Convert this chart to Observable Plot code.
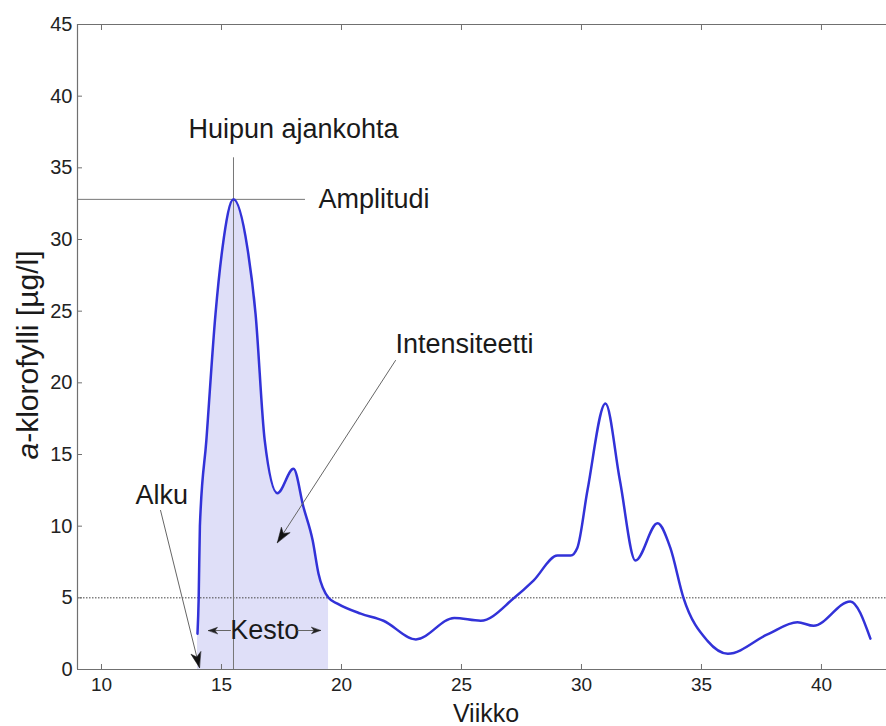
<!DOCTYPE html>
<html><head><meta charset="utf-8">
<script src="https://cdn.jsdelivr.net/npm/d3@7"></script>
<script src="https://cdn.jsdelivr.net/npm/@observablehq/plot@0.6"></script>
<style>
html,body{margin:0;padding:0;background:#fff;overflow:hidden;}
#chart svg{display:block;}
</style>
</head><body><div id="chart"></div>
<script>
// ---- data ----
const weeks = [14.0, 14.05, 14.1, 14.37, 14.75, 15.04, 15.5, 16.08, 16.42, 16.8, 17.33, 18.0, 18.42, 18.8, 19.04, 19.46, 19.83, 20.8, 21.75, 23.1, 24.7, 25.8, 27.2, 28.0, 29.0, 29.55, 29.83, 30.25, 31.0, 31.6, 32.25, 33.17, 33.7, 34.25, 35.25, 36.1, 37.75, 39.0, 39.67, 41.2, 42.04];
const chlorophyll = [2.5, 5.0, 10, 16, 24.8, 29.4, 32.8, 29.4, 24.8, 16, 12.3, 14.0, 11.3, 9.0, 6.7, 5.0, 4.6, 3.9, 3.4, 2.1, 3.6, 3.4, 5.0, 6.2, 7.95, 7.95, 8.5, 12.5, 18.55, 13.2, 7.6, 10.2, 8.5, 5.0, 2.0, 1.1, 2.45, 3.3, 3.05, 4.75, 2.15];
const xTicks = [10, 15, 20, 25, 30, 35, 40];
const yTicks = [0, 5, 10, 15, 20, 25, 30, 35, 40, 45];
const xDomain = [9, 42.71];
const yDomain = [0, 45];

const threshold = 5;          // dotted threshold line
const bloomStart = 14.0;      // Alku
const bloomEnd = 19.46;       // end of Kesto
const peakWeek = 15.5;        // Huipun ajankohta
const peakValue = 32.8;       // Amplitudi
const peakLineTop = 35.7;
const amplitudeLineEnd = 18.5;

const labelTexts = ["Huipun ajankohta", "Amplitudi", "Intensiteetti", "Alku", "Kesto"];
const labelX = [18.0, 19.04, 22.25, 11.42, 16.8];
const labelY = [37.7, 32.83, 22.68, 12.14, 2.72];
const labelAnchor = ["middle", "start", "start", "start", "middle"];

const arrowX1 = [22.25, 12.46, 15.375, 18.17];
const arrowY1 = [21.56, 11.1, 2.72, 2.72];
const arrowX2 = [17.33, 14.08, 14.46, 19.125];
const arrowY2 = [8.86, 0.14, 2.72, 2.72];
const arrowKind = ["big", "big", "small", "small"];

const yLabel = "a-klorofylli [µg/l]";
const xLabel = "Viikko";

// ---- build tables ----
const series = weeks.map((w, i) => ({week: w, value: chlorophyll[i]}));
const shaded = series.filter(d => d.week >= bloomStart && d.week <= bloomEnd);
const labels = labelTexts.map((t, i) => ({text: t, x: labelX[i], y: labelY[i], anchor: labelAnchor[i]}));
const arrows = arrowX1.map((x, i) => ({x1: x, y1: arrowY1[i], x2: arrowX2[i], y2: arrowY2[i], kind: arrowKind[i]}));

const W = 886, H = 726, ML = 77, MR = 0, MT = 24, MB = 57;
const kx = (W - ML - MR) / (xDomain[1] - xDomain[0]);
const ky = (H - MT - MB) / (yDomain[1] - yDomain[0]);
arrows.forEach(a => {
  a.angle = Math.atan2((a.x2 - a.x1) * kx, (a.y2 - a.y1) * ky) * 180 / Math.PI;
});

const headShape = {
  draw(context, l, r) {
    context.moveTo(0, -l);
    context.lineTo(r, 0);
    context.lineTo(0, -l * 0.28);
    context.lineTo(-r, 0);
    context.closePath();
  }
};

const FONT = "'Liberation Sans', Arial, Helvetica, sans-serif";
const curve = "monotone-x";
const AX = "#707070";
const TXT = "#1a1a1a";

const chart = Plot.plot({
  width: W, height: H,
  marginLeft: ML, marginRight: MR, marginTop: MT, marginBottom: MB,
  style: {fontFamily: FONT, fontSize: "20px", color: "#222", background: "#fff"},
  x: {domain: xDomain},
  y: {domain: yDomain},
  marks: [
    Plot.areaY(shaded, {x: "week", y: "value", curve, fill: "#dfdff8"}),
    Plot.ruleY([threshold], {stroke: "#444", strokeWidth: 1, strokeDasharray: "1.5,1.5"}),
    Plot.ruleX([peakWeek], {y1: yDomain[0], y2: peakLineTop, stroke: "#777", strokeWidth: 1}),
    Plot.ruleY([peakValue], {x1: xDomain[0], x2: amplitudeLineEnd, stroke: "#777", strokeWidth: 1}),
    Plot.line(series, {x: "week", y: "value", curve, stroke: "#3232d8", strokeWidth: 2.5}),
    Plot.text(labels.filter(d => d.anchor === "middle"), {x: "x", y: "y", text: "text", textAnchor: "middle", lineAnchor: "middle", fontSize: 27, fill: TXT}),
    Plot.text(labels.filter(d => d.anchor === "start"), {x: "x", y: "y", text: "text", textAnchor: "start", lineAnchor: "middle", fontSize: 27, fill: TXT}),
    Plot.arrow(arrows, {x1: "x1", y1: "y1", x2: "x2", y2: "y2", stroke: "#666", strokeWidth: 1, headLength: 0}),
    Plot.vector(arrows.filter(a => a.kind === "big"), {x: "x2", y: "y2", rotate: "angle", length: 15, r: 5, anchor: "end", shape: headShape, fill: "#111", stroke: "#111", strokeWidth: 0.5}),
    Plot.vector(arrows.filter(a => a.kind === "small"), {x: "x2", y: "y2", rotate: "angle", length: 9, r: 3.2, anchor: "end", shape: headShape, fill: "#222", stroke: "#222", strokeWidth: 0.5}),
    // axes box (left, bottom, top)
    Plot.ruleX([xDomain[0]], {stroke: AX, strokeWidth: 1.2}),
    Plot.ruleY([yDomain[0], yDomain[1]], {stroke: AX, strokeWidth: 1.2}),
    Plot.axisY({ticks: yTicks, tickSize: -5, tickPadding: 10, label: null, stroke: AX, fontSize: 20}),
    Plot.axisX({ticks: xTicks, tickSize: -5, tickPadding: 13, label: null, stroke: AX, fontSize: 19}),
    Plot.axisX({anchor: "top", ticks: xTicks, tickSize: -5, tickFormat: () => "", label: null, stroke: AX}),
    Plot.text([yLabel], {frameAnchor: "left", dx: -49, dy: 8, rotate: -90, text: d => d, textAnchor: "middle", lineAnchor: "middle", fontSize: 30, fill: TXT}),
    Plot.text([xLabel], {frameAnchor: "bottom", dx: 4, dy: 44, text: d => d, textAnchor: "middle", lineAnchor: "middle", fontSize: 25, fill: TXT})
  ]
});
document.getElementById("chart").appendChild(chart);

// italic "a" in the y label
d3.select(chart).selectAll("text").each(function() {
  if (this.textContent === yLabel) {
    const el = d3.select(this);
    el.text(null);
    el.append("tspan").attr("font-style", "italic").text(yLabel.slice(0, 1));
    el.append("tspan").text(yLabel.slice(1));
  }
});
</script>
</body></html>
